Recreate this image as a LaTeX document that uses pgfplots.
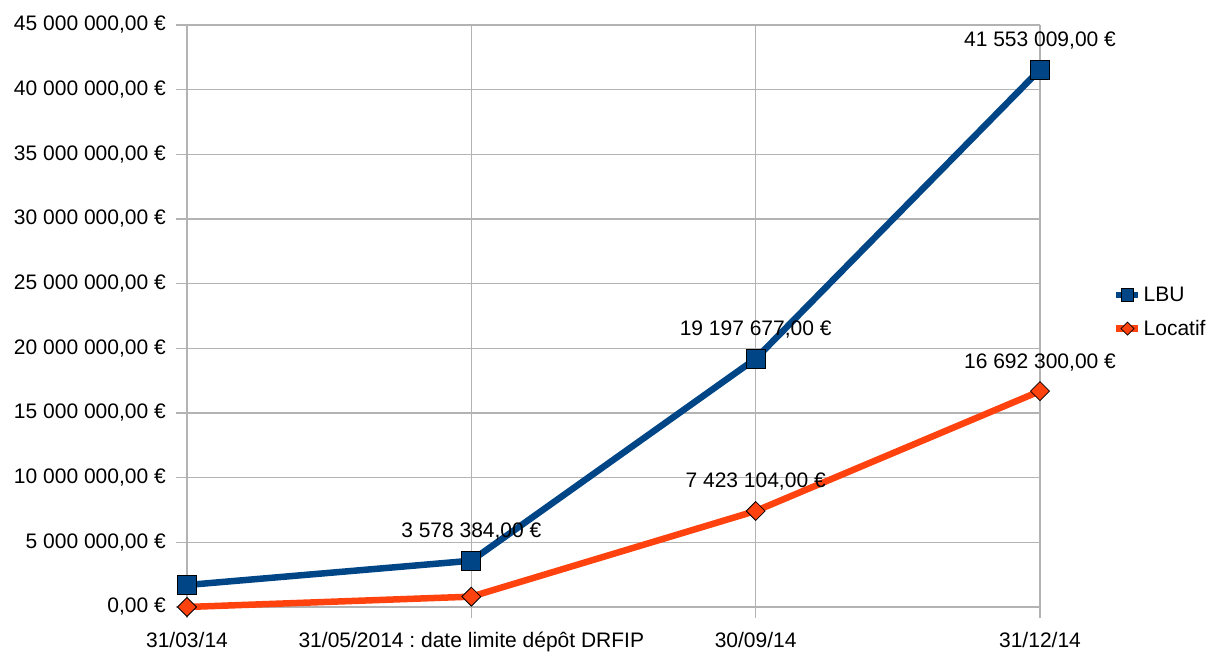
\documentclass[border=0pt]{standalone}
\usepackage{pgfplots}
\pgfplotsset{compat=1.18}
\usepackage{fontspec}
\setmainfont{Liberation Sans}
\frenchspacing
\definecolor{lbu}{HTML}{004586}
\definecolor{loc}{HTML}{FF420E}
\definecolor{gridc}{HTML}{B3B3B3}
\pgfplotsset{
  lbuleg/.style={legend image code/.code={\draw[mark repeat=2,mark phase=2,##1,mark size=6.3bp] plot coordinates {(0bp,0bp)(11bp,0bp)(22bp,0bp)};}},
  locleg/.style={legend image code/.code={\draw[mark repeat=2,mark phase=2,##1,mark size=4.6bp] plot coordinates {(0bp,0bp)(11bp,0bp)(22bp,0bp)};}},
}
\begin{document}
\begin{tikzpicture}[font=\fontsize{21bp}{25bp}\selectfont]
\begin{axis}[
  scale only axis, width=853bp, height=582bp,
  xmin=0, xmax=3, ymin=0, ymax=45000000,
  xtick={0,1,2,3},
  xticklabels={31/03/14, 31/05/2014 : date limite dépôt DRFIP, 30/09/14, 31/12/14},
  ytick={0,5000000,10000000,15000000,20000000,25000000,30000000,35000000,40000000,45000000},
  yticklabels={{0,00 €},{5 000 000,00 €},{10 000 000,00 €},{15 000 000,00 €},{20 000 000,00 €},{25 000 000,00 €},{30 000 000,00 €},{35 000 000,00 €},{40 000 000,00 €},{45 000 000,00 €}},
  scaled y ticks=false,
  grid=major, major grid style={gridc, line width=1.2bp},
  axis line style={draw=none},
  tick style={gridc, line width=1.2bp},
  tick align=outside, major tick length=11bp,
  xtick pos=bottom, ytick pos=left,
  yticklabel style={inner sep=0pt, xshift=-10bp, text=black},
  xticklabel style={inner sep=0pt, yshift=-14bp, text=black},
  clip=false,
  legend style={draw=none, fill=none, at={(1,0.507)}, anchor=west, xshift=73bp, inner sep=0pt, row sep=13.5bp, font=\fontsize{21bp}{25bp}\selectfont},
  legend cell align=left,
]
\coordinate (sw) at (rel axis cs:0,0);
\coordinate (ne) at (rel axis cs:1,1);
\addplot[lbu, line width=6.5bp, mark=square*, mark size=9.5bp,
  mark options={fill=lbu, draw=black, line width=0.8bp},
  point meta=explicit symbolic, nodes near coords,
  nodes near coords style={text=black, anchor=south, inner sep=0pt, yshift=20bp},
  lbuleg
] coordinates {
  (0,1700000) [{}]
  (1,3578384) [{3 578 384,00 €}]
  (2,19197677) [{19 197 677,00 €}]
  (3,41553009) [{41 553 009,00 €}]
};
\addlegendentry{LBU}
\addplot[loc, line width=6.5bp, mark=square*, mark size=6.7bp,
  mark options={fill=loc, draw=black, line width=0.8bp, rotate=45},
  point meta=explicit symbolic, nodes near coords,
  nodes near coords style={text=black, anchor=south, inner sep=0pt, yshift=20bp, rotate=0},
  locleg
] coordinates {
  (0,0) [{}]
  (1,800000) [{}]
  (2,7423104) [{7 423 104,00 €}]
  (3,16692300) [{16 692 300,00 €}]
};
\addlegendentry{Locatif}
\end{axis}
\path[use as bounding box] ([xshift=-187bp,yshift=-43bp]sw) rectangle ([xshift=169bp,yshift=25bp]ne);
\end{tikzpicture}
\end{document}
